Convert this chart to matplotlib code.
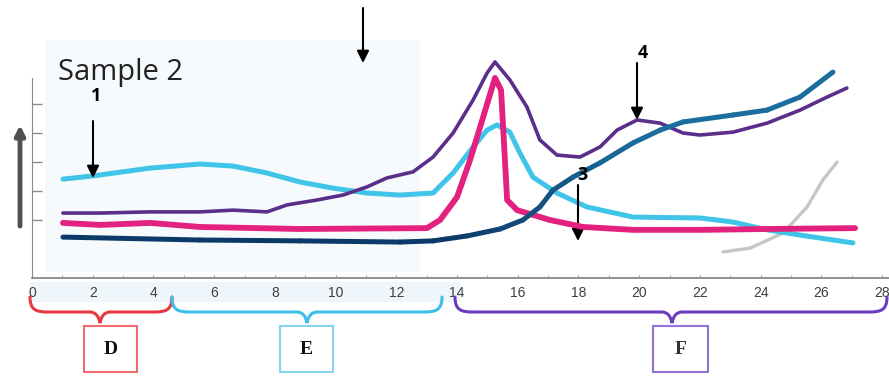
import matplotlib.pyplot as plt
import numpy as np
from matplotlib.collections import LineCollection
from matplotlib.path import Path
from matplotlib.patches import PathPatch, Rectangle
from matplotlib.colors import to_rgb

# ---- data (x = time, y = signal) ----
cyan_x = [1.02, 2.01, 3.89, 5.53, 6.62, 7.74, 8.83, 9.91, 11.03, 12.12, 13.21, 13.87, 14.53,
          14.99, 15.32, 15.74, 16.07, 16.50, 17.29, 18.28, 19.80, 22.00, 23.09, 24.21, 25.30, 27.04]
cyan_y = [3.41, 3.52, 3.79, 3.93, 3.86, 3.62, 3.31, 3.10, 2.93, 2.86, 2.93, 3.62, 4.52,
          5.10, 5.28, 5.03, 4.31, 3.48, 2.93, 2.45, 2.10, 2.07, 1.93, 1.66, 1.48, 1.21]

purple_x = [1.02, 2.24, 3.89, 5.53, 6.62, 7.74, 8.40, 9.39, 10.24, 11.03, 11.69, 12.55, 13.21,
            13.87, 14.53, 14.99, 15.25, 15.74, 16.30, 16.73, 17.29, 18.05, 18.71, 19.27, 19.93,
            20.69, 21.44, 22.00, 23.09, 24.21, 25.30, 26.19, 26.84]
purple_y = [2.24, 2.24, 2.28, 2.28, 2.34, 2.28, 2.52, 2.69, 2.86, 3.14, 3.45, 3.66, 4.17,
            5.00, 6.14, 7.07, 7.45, 6.83, 5.90, 4.76, 4.24, 4.17, 4.52, 5.10, 5.45,
            5.34, 5.00, 4.93, 5.03, 5.34, 5.79, 6.24, 6.55]

pink_x = [1.02, 2.24, 3.89, 5.53, 8.83, 13.01, 13.44, 14.00, 14.43, 14.86, 15.25, 15.45,
          15.65, 15.98, 17.06, 18.15, 19.80, 22.00, 24.21, 27.11]
pink_y = [1.90, 1.83, 1.90, 1.76, 1.69, 1.72, 2.00, 2.79, 4.07, 5.55, 6.90, 6.48,
          2.69, 2.34, 2.00, 1.76, 1.66, 1.66, 1.69, 1.72]

navy_x = [1.02, 5.53, 8.83, 12.12, 13.21, 14.33, 15.42, 16.17, 16.73, 17.16, 17.82, 18.71,
          19.80, 20.69, 21.44, 23.09, 24.21, 25.30, 26.38]
navy_y = [1.41, 1.31, 1.28, 1.24, 1.28, 1.45, 1.69, 2.00, 2.45, 3.03, 3.48, 3.97,
          4.66, 5.10, 5.38, 5.62, 5.79, 6.24, 7.10]

gray_x = [22.76, 23.65, 24.74, 25.53, 26.05, 26.52]
gray_y = [0.90, 1.03, 1.55, 2.45, 3.38, 4.00]

xticks = list(range(0, 29, 2))
yticks = [2, 3, 4, 5, 6]

W, H = 889, 377
fig = plt.figure(figsize=(W / 100, H / 100), dpi=100)


def fx(px):
    return px / W


def fy(py):
    return 1 - py / H


# very faint blue wash in the background
fig.add_artist(Rectangle((fx(45), fy(272)), fx(420) - fx(45), fy(40) - fy(272),
                         transform=fig.transFigure, color="#f6fafd", zorder=0, lw=0))
fig.add_artist(Rectangle((fx(30), fy(302)), fx(460) - fx(30), fy(282) - fy(302),
                         transform=fig.transFigure, color="#eef6fb", zorder=0, lw=0))

ax = fig.add_axes([fx(32), fy(278), fx(889) - fx(32), fy(0) - fy(278)])
ax.patch.set_alpha(0)
ax.set_xlim(0, 857 / 30.36)
ax.set_ylim(0, 278 / 29)

ax.plot(gray_x, gray_y, color="#c6c6c6", lw=2.4, solid_capstyle="round", zorder=2)
ax.plot(cyan_x, cyan_y, color="#40c4e8", lw=3.6, solid_capstyle="round", zorder=3)
ax.plot(purple_x, purple_y, color="#5b2e8a", lw=2.6, solid_capstyle="round", zorder=4)
ax.plot(pink_x, pink_y, color="#e3217f", lw=4.2, solid_capstyle="round", zorder=5)

# navy line shifts to a teal blue on its rise
pts = np.column_stack([navy_x, navy_y])
segs = np.stack([pts[:-1], pts[1:]], axis=1)
c0, c1 = np.array(to_rgb("#0c3a68")), np.array(to_rgb("#1a6d9c"))
mids = (np.array(navy_x[:-1]) + np.array(navy_x[1:])) / 2
t = np.clip((mids - 14) / 6, 0, 1)[:, None]
lc = LineCollection(segs, colors=c0 * (1 - t) + c1 * t, linewidths=3.6, capstyle="round",
                    joinstyle="round", zorder=6)
ax.add_collection(lc)

for s in ["top", "right"]:
    ax.spines[s].set_visible(False)
ax.spines["left"].set_bounds(0, 6.9)
ax.spines["left"].set_color("#8a8a8a")
ax.spines["bottom"].set_color("#8a8a8a")
ax.spines["bottom"].set_linewidth(1.3)
ax.set_yticks(yticks)
ax.set_yticklabels([])
ax.tick_params(axis="y", direction="in", length=7, color="#8a8a8a", width=1)
ax.set_xticks(xticks)
ax.set_xticks(range(0, 29), minor=True)
ax.set_xticklabels([str(v) for v in xticks], fontsize=10, color="#3e3e3e",
                   family="Liberation Sans")
ax.tick_params(axis="x", which="both", direction="in", length=2, color="#9a9a9a", pad=6)

# title and numbered arrows
fig.text(fx(58), fy(80), "Sample 2", fontsize=21, family="Open Sans", color="#222222",
         va="baseline", ha="left")
arrow = dict(arrowstyle="-|>", color="black", lw=1.5, mutation_scale=18, shrinkA=0, shrinkB=0)
for px, y0, y1 in [(93, 121, 178), (363, 8, 63), (637, 63, 120), (578, 185, 241)]:
    ax.annotate("", xy=(fx(px), fy(y1)), xytext=(fx(px), fy(y0)),
                xycoords="figure fraction", textcoords="figure fraction", arrowprops=arrow)
for px, py, s in [(96, 96, "1"), (643, 53, "4"), (583, 175, "3")]:
    fig.text(fx(px), fy(py), s, fontsize=13, fontweight="bold", ha="center", va="center",
             family="Open Sans")

# big y arrow
ax.annotate("", xy=(fx(20), fy(125)), xytext=(fx(20), fy(226)),
            xycoords="figure fraction", textcoords="figure fraction",
            arrowprops=dict(arrowstyle="-|>", color="#505050", lw=3.5, mutation_scale=14,
                            shrinkA=0, shrinkB=0))


# braces with labelled boxes
def brace(x0, x1, xm, color):
    yt, yh, yb = 297, 312, 323
    verts = [(x0, yt), (x0, yh - 2), (x0 + 6, yh), (x0 + 18, yh),
             (xm - 10, yh), (xm - 2, yh), (xm, yb),
             (xm + 2, yh), (xm + 10, yh),
             (x1 - 18, yh), (x1 - 6, yh), (x1, yh - 2), (x1, yt)]
    codes = [Path.MOVETO, Path.CURVE4, Path.CURVE4, Path.CURVE4,
             Path.LINETO, Path.CURVE3, Path.CURVE3, Path.CURVE3, Path.CURVE3,
             Path.LINETO, Path.CURVE4, Path.CURVE4, Path.CURVE4]
    v = [(fx(a), fy(b)) for a, b in verts]
    fig.add_artist(PathPatch(Path(v, codes), transform=fig.transFigure, fill=False,
                             edgecolor=color, lw=2.2, capstyle="round"))


brace(30, 172, 100, "#e53a3f")
brace(172, 442, 307, "#3dbfe9")
brace(455, 887, 672, "#6a3cbf")

for bx0, bx1, s, ec, tc in [(84, 137, "D", "#ef6b6e", "#111111"),
                            (280, 333, "E", "#86d3f0", "#111111"),
                            (653, 708, "F", "#9372d6", "#333333")]:
    fig.add_artist(Rectangle((fx(bx0), fy(372)), fx(bx1) - fx(bx0), fy(326) - fy(372),
                             transform=fig.transFigure, fill=False, edgecolor=ec, lw=1.5))
    fig.text(fx((bx0 + bx1) / 2), fy(349), s, fontsize=14, fontweight="bold",
             family="Liberation Serif", ha="center", va="center", color=tc)

fig.savefig("out.png", dpi=100)
